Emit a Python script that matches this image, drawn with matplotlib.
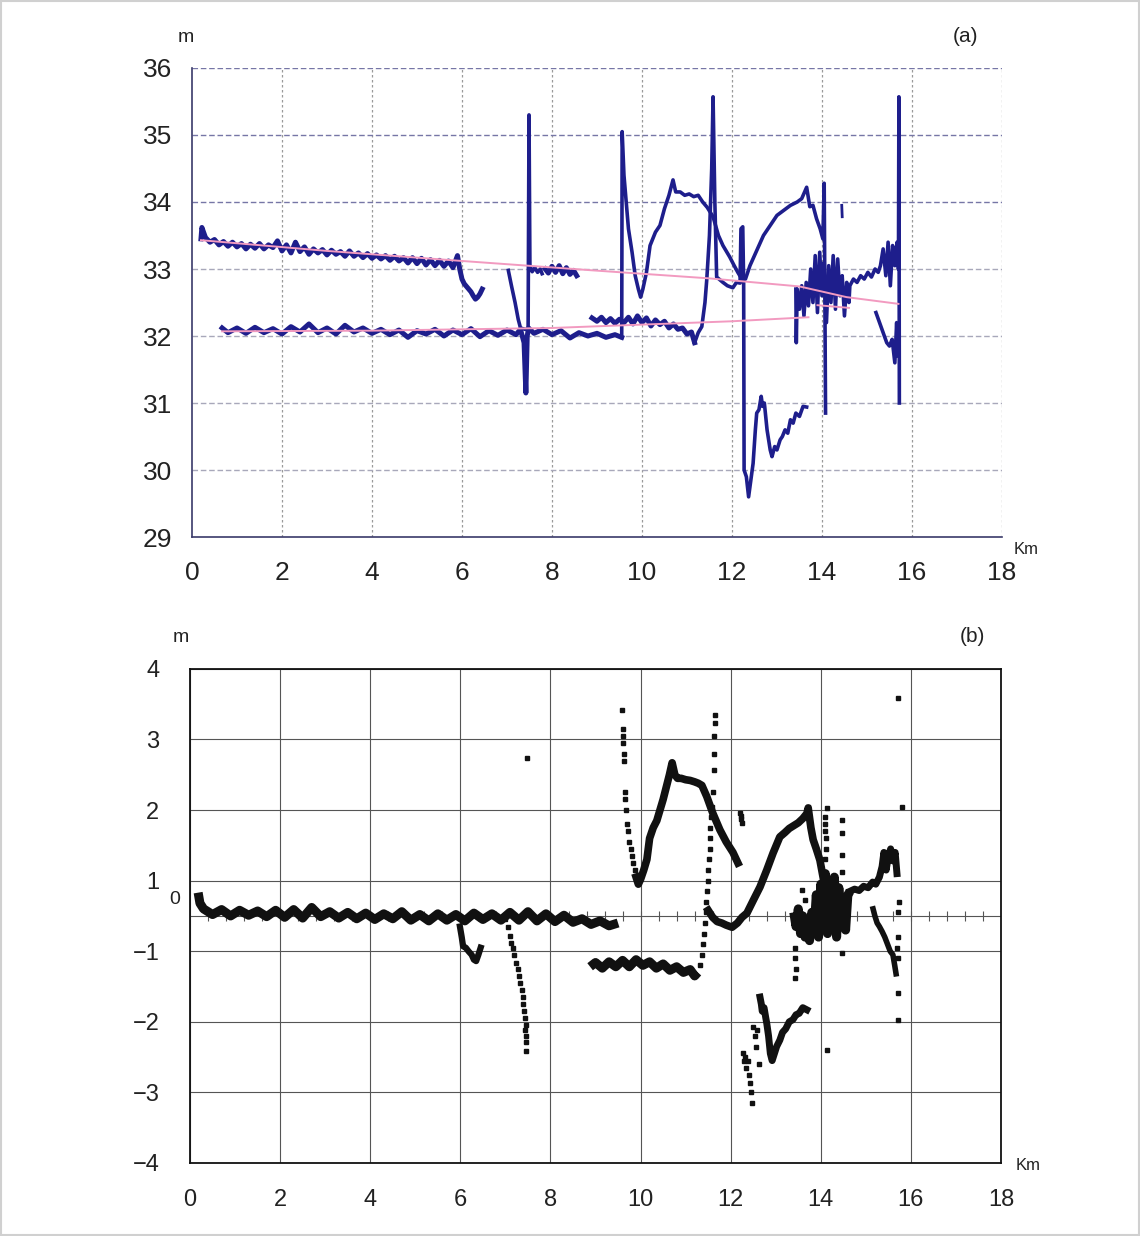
import numpy as np
import matplotlib.pyplot as plt
from matplotlib.patches import Rectangle

plt.rcParams['font.family'] = ['Liberation Sans', 'DejaVu Sans']

# ---------------- (a) heights, m ----------------
a_up1_x = [0.20, 0.22, 0.30, 0.40, 0.50, 0.60, 0.70, 0.80, 0.90, 1.00, 1.10, 1.20, 1.30, 1.40, 1.50,
           1.60, 1.70, 1.80, 1.90, 2.00, 2.10, 2.20, 2.30, 2.40, 2.50, 2.60, 2.70, 2.80, 2.90, 3.00,
           3.10, 3.20, 3.30, 3.40, 3.50, 3.60, 3.70, 3.80, 3.90, 4.00, 4.10, 4.20, 4.30, 4.40, 4.50,
           4.60, 4.70, 4.80, 4.90, 5.00, 5.10, 5.20, 5.30, 5.40, 5.50, 5.60, 5.70, 5.80, 5.90,
           5.95, 6.00, 6.05, 6.10, 6.15, 6.20, 6.25, 6.30, 6.35, 6.40, 6.45]
a_up1_y = [33.45, 33.62, 33.47, 33.40, 33.44, 33.36, 33.41, 33.34, 33.40, 33.33, 33.38, 33.30, 33.37,
           33.31, 33.38, 33.30, 33.36, 33.32, 33.42, 33.27, 33.36, 33.24, 33.40, 33.26, 33.33, 33.22,
           33.30, 33.24, 33.29, 33.21, 33.28, 33.22, 33.26, 33.19, 33.27, 33.19, 33.24, 33.17, 33.23,
           33.16, 33.21, 33.15, 33.20, 33.13, 33.19, 33.12, 33.17, 33.09, 33.17, 33.08, 33.16, 33.06,
           33.14, 33.05, 33.13, 33.04, 33.12, 33.02, 33.20,
           33.00, 32.85, 32.78, 32.74, 32.70, 32.66, 32.60, 32.55, 32.58, 32.63, 32.70]

a_low_x = [0.67, 0.80, 1.00, 1.20, 1.40, 1.60, 1.80, 2.00, 2.20, 2.40, 2.60, 2.80, 3.00, 3.20, 3.40,
           3.60, 3.80, 4.00, 4.20, 4.40, 4.60, 4.80, 5.00, 5.20, 5.40, 5.60, 5.80, 6.00, 6.20, 6.40,
           6.60, 6.80, 7.00, 7.20, 7.30, 7.38, 7.42, 7.45, 7.48, 7.60, 7.80, 8.00, 8.20, 8.40, 8.60,
           8.80, 9.00, 9.20, 9.40, 9.55]
a_low_y = [32.12, 32.05, 32.12, 32.04, 32.13, 32.05, 32.11, 32.03, 32.14, 32.06, 32.18, 32.05, 32.12,
           32.03, 32.16, 32.06, 32.12, 32.04, 32.10, 32.02, 32.09, 31.98, 32.08, 32.03, 32.10, 32.00,
           32.09, 32.02, 32.11, 31.99, 32.08, 32.01, 32.09, 32.02, 32.10, 31.90, 31.15, 32.00, 32.12,
           32.04, 32.10, 32.02, 32.08, 31.97, 32.05, 32.00, 32.04, 31.98, 32.02, 31.98]

a_hump_x = [9.56, 9.60, 9.65, 9.70, 9.78, 9.85, 9.92, 9.97, 10.02, 10.10, 10.18, 10.30, 10.40, 10.50,
            10.60, 10.69, 10.75, 10.85, 10.95, 11.05, 11.15, 11.25, 11.35, 11.45, 11.58, 11.70, 11.80,
            11.95, 12.05, 12.13, 12.22, 12.30, 12.40, 12.50, 12.60, 12.70, 12.80, 12.90, 13.00, 13.10,
            13.20, 13.30, 13.45, 13.55, 13.66, 13.73, 13.80, 13.88, 13.96, 14.02, 14.05, 14.08]
a_hump_y = [35.05, 34.40, 34.00, 33.60, 33.25, 32.90, 32.70, 32.58, 32.70, 32.95, 33.35, 33.55, 33.65,
            33.90, 34.10, 34.33, 34.15, 34.15, 34.10, 34.12, 34.08, 34.10, 34.00, 33.92, 33.78, 33.50,
            33.35, 33.18, 33.05, 32.95, 32.85, 32.85, 33.05, 33.20, 33.35, 33.50, 33.60, 33.70, 33.80,
            33.85, 33.90, 33.95, 34.00, 34.05, 34.22, 33.93, 33.95, 33.75, 33.60, 33.45, 34.28, 30.85]

a_mid_x = [7.03, 7.10, 7.18, 7.25, 7.30, 7.40, 7.47, 7.49, 7.51, 7.56, 7.62, 7.68, 7.74, 7.78]
a_mid_y = [32.98, 32.75, 32.50, 32.25, 32.12, 32.10, 32.10, 35.30, 33.05, 32.96, 33.02, 32.95, 33.00, 32.93]
a_mid2_x = [7.85, 7.92, 8.00, 8.08, 8.16, 8.24, 8.32, 8.40, 8.48, 8.55]
a_mid2_y = [33.00, 32.94, 33.04, 32.95, 33.05, 32.93, 33.02, 32.92, 32.98, 32.90]

a_low2_x = [8.89, 9.00, 9.10, 9.20, 9.30, 9.40, 9.50, 9.60, 9.70, 9.80, 9.90, 10.00, 10.10, 10.20,
            10.30, 10.40, 10.50, 10.60, 10.70, 10.80, 10.90, 11.00, 11.10,
            11.17, 11.25, 11.33, 11.40, 11.44, 11.50, 11.55, 11.58, 11.62, 11.66,
            11.73, 11.80, 11.90, 12.02, 12.10, 12.18, 12.20, 12.24, 12.26, 12.27,
            12.32, 12.37, 12.42, 12.47, 12.52, 12.55, 12.60, 12.65, 12.68, 12.72,
            12.78, 12.85, 12.89, 12.95, 13.00, 13.07, 13.12, 13.18, 13.24, 13.30,
            13.36, 13.42, 13.50, 13.58, 13.66]
a_low2_y = [32.27, 32.22, 32.28, 32.20, 32.26, 32.19, 32.25, 32.20, 32.28, 32.18, 32.30, 32.20, 32.27,
            32.15, 32.24, 32.17, 32.22, 32.12, 32.18, 32.10, 32.12, 32.03, 32.06,
            31.90, 32.05, 32.14, 32.50, 32.84, 33.50, 34.50, 35.57, 34.00, 32.88,
            32.84, 32.80, 32.75, 32.72, 32.80, 32.79, 33.60, 33.63, 32.80, 30.00,
            29.90, 29.60, 29.85, 30.10, 30.60, 30.85, 30.90, 31.10, 30.95, 31.00,
            30.60, 30.30, 30.20, 30.35, 30.30, 30.45, 30.50, 30.60, 30.55, 30.75,
            30.70, 30.85, 30.80, 30.95, 30.94]

a_cl_x = [13.42, 13.43, 13.45, 13.50, 13.55, 13.60, 13.65, 13.70, 13.75, 13.80, 13.85, 13.90, 13.95,
          14.00, 14.05, 14.10, 14.15, 14.20, 14.25, 14.30, 14.35, 14.40, 14.45, 14.50, 14.55, 14.60,
          14.62, 14.70, 14.78, 14.86, 14.94, 15.02, 15.10, 15.18, 15.25, 15.30,
          15.36, 15.42, 15.47, 15.52, 15.57, 15.62, 15.67, 15.70, 15.71, 15.72]
a_cl_y = [32.70, 31.90, 32.70, 32.40, 32.75, 32.30, 32.80, 32.45, 33.00, 32.50, 33.20, 32.35, 33.25,
          32.60, 33.10, 32.20, 33.05, 32.50, 33.20, 32.40, 33.15, 32.60, 32.90, 32.30, 32.80, 32.50,
          32.75, 32.85, 32.80, 32.90, 32.85, 32.95, 32.88, 33.00, 32.95, 33.05,
          33.30, 32.90, 33.40, 32.75, 33.35, 33.05, 33.40, 33.00, 35.57, 31.00]

a_desc_x = [15.20, 15.28, 15.36, 15.44, 15.50, 15.56, 15.62, 15.66, 15.68]
a_desc_y = [32.35, 32.20, 32.05, 31.90, 31.85, 31.95, 31.60, 32.20, 31.70]
a_mark_x = [14.44, 14.45]
a_mark_y = [33.95, 33.78]

a_pink1_x = [0.20, 3.00, 6.00, 8.90, 11.50, 13.50, 14.55, 15.70]
a_pink1_y = [33.43, 33.27, 33.12, 32.98, 32.86, 32.74, 32.58, 32.48]
a_pink2_x = [0.67, 4.00, 8.00, 10.00, 12.00, 13.70]
a_pink2_y = [32.07, 32.08, 32.12, 32.17, 32.22, 32.28]
a_pink3_x = [13.90, 14.60]
a_pink3_y = [32.46, 32.42]

# ---------------- (b) differences, m (axis units, 0 = zero line) ----------------
b_band_x = [0.18, 0.22, 0.3, 0.5, 0.7, 0.9, 1.1, 1.3, 1.5, 1.7, 1.9, 2.1, 2.3, 2.5, 2.7, 2.9, 3.1,
            3.3, 3.5, 3.7, 3.9, 4.1, 4.3, 4.5, 4.7, 4.9, 5.1, 5.3, 5.5, 5.7, 5.9, 6.1, 6.3, 6.5, 6.7,
            6.9, 7.1, 7.3, 7.5, 7.7, 7.9, 8.1, 8.3, 8.5, 8.7, 8.9, 9.1, 9.3, 9.5]
b_band_y = [0.33, 0.18, 0.10, 0.02, 0.09, 0.00, 0.08, 0.01, 0.07, -0.01, 0.08, -0.02,
            0.09, -0.03, 0.12, -0.01, 0.06, -0.03, 0.05, -0.04, 0.04, -0.05,
            0.03, -0.04, 0.06, -0.06, 0.02, -0.07, 0.03, -0.06, 0.02, -0.07,
            0.04, -0.05, 0.03, -0.06, 0.05, -0.06, 0.06, -0.07, 0.03, -0.08,
            0.01, -0.09, -0.04, -0.12, -0.07, -0.14, -0.10]

b_dip6_x = [5.99, 6.03, 6.06, 6.12, 6.18, 6.25, 6.30, 6.35, 6.40, 6.45]
b_dip6_y = [-0.15, -0.30, -0.43, -0.45, -0.50, -0.55, -0.62, -0.64, -0.55, -0.45]

b_dip7_x = [7.00, 7.05, 7.10, 7.13, 7.17, 7.20, 7.24, 7.27, 7.30, 7.33, 7.36, 7.38, 7.40, 7.42,
            7.44, 7.45, 7.44, 7.46, 7.45, 7.46]
b_dip7_y = [-0.05, -0.15, -0.28, -0.38, -0.46, -0.55, -0.66, -0.75, -0.85, -0.95, -1.05, -1.15,
            -1.25, -1.35, -1.45, -1.55, -1.62, -1.70, -1.78, -1.92]

b_low2_x = [8.88, 9.0, 9.15, 9.3, 9.45, 9.6, 9.75, 9.9, 10.05, 10.2, 10.35, 10.5, 10.65, 10.8,
            10.95, 11.1, 11.2, 11.27]
b_low2_y = [-0.72, -0.66, -0.74, -0.65, -0.72, -0.63, -0.72, -0.62, -0.70, -0.65, -0.74, -0.68,
            -0.77, -0.72, -0.80, -0.76, -0.85, -0.80]

b_rise_x = [11.32, 11.36, 11.39, 11.41, 11.43, 11.45, 11.46, 11.48, 11.49, 11.50, 11.52, 11.53,
            11.54, 11.55, 11.57, 11.58, 11.60, 11.62, 11.63, 11.64, 11.65, 11.66]
b_rise_y = [-0.70, -0.55, -0.40, -0.25, -0.10, 0.05, 0.20, 0.35, 0.50, 0.65, 0.80, 0.95, 1.10,
            1.25, 1.40, 1.55, 1.75, 2.07, 2.30, 2.55, 2.73, 2.85]

b_fall_x = [9.59, 9.60, 9.61, 9.62, 9.63, 9.64, 9.65, 9.66, 9.67, 9.70, 9.72, 9.75, 9.78, 9.81,
            9.84, 9.87, 9.90]
b_fall_y = [2.92, 2.65, 2.55, 2.45, 2.30, 2.20, 1.75, 1.65, 1.50, 1.30, 1.20, 1.05, 0.95, 0.85,
            0.75, 0.65, 0.55]

b_hump1_x = [9.90, 9.95, 10.00, 10.07, 10.14, 10.20, 10.28, 10.36, 10.43, 10.50, 10.58, 10.64,
             10.70, 10.76, 10.82, 10.90, 11.00, 11.10, 11.20, 11.28, 11.36, 11.47, 11.60, 11.76,
             11.90, 12.05, 12.16]
b_hump1_y = [0.55, 0.45, 0.52, 0.65, 0.80, 1.10, 1.25, 1.35, 1.50, 1.65, 1.85, 2.00, 2.17, 2.00,
             1.95, 1.95, 1.93, 1.92, 1.90, 1.88, 1.85, 1.69, 1.46, 1.22, 1.05, 0.90, 0.75]

b_small_x = [12.20, 12.22, 12.23, 12.25]
b_small_y = [1.46, 1.38, 1.42, 1.32]

b_hump2_x = [11.50, 11.60, 11.70, 11.80, 11.90, 12.03, 12.15, 12.25, 12.36, 12.50, 12.65, 12.80,
             12.94, 13.09, 13.20, 13.30, 13.40, 13.50, 13.60, 13.69, 13.72, 13.78, 13.83, 13.90,
             13.98, 14.05]
b_hump2_y = [0.08, -0.02, -0.08, -0.10, -0.13, -0.16, -0.10, -0.02, 0.04, 0.22, 0.41, 0.65, 0.89,
             1.12, 1.18, 1.24, 1.28, 1.32, 1.38, 1.45, 1.53, 1.25, 1.08, 0.95, 0.79, 0.55]

b_bot_x = [12.65, 12.68, 12.70, 12.74, 12.78, 12.80, 12.84, 12.88, 12.92, 12.97, 13.02, 13.09,
           13.15, 13.22, 13.30, 13.38, 13.45, 13.52, 13.60, 13.69]
b_bot_y = [-1.15, -1.25, -1.35, -1.30, -1.45, -1.52, -1.70, -1.95, -2.05, -1.95, -1.85, -1.76,
           -1.65, -1.60, -1.50, -1.47, -1.40, -1.38, -1.30, -1.33]
b_botdots_x = [12.28, 12.30, 12.32, 12.35, 12.38, 12.40, 12.43, 12.45, 12.47, 12.50, 12.53, 12.56,
               12.58, 12.62]
b_botdots_y = [-1.94, -2.05, -2.00, -2.15, -2.05, -2.25, -2.37, -2.50, -2.65, -1.57, -1.70, -1.85,
               -1.62, -2.10]

b_blob_x = [13.40, 13.45, 13.50, 13.55, 13.60, 13.65, 13.70, 13.75, 13.80, 13.85, 13.90, 13.95,
            14.00, 14.05, 14.10, 14.15, 14.20, 14.25, 14.30, 14.35, 14.40, 14.45, 14.50, 14.55,
            14.60, 14.65]
b_blob_y = [0.05, -0.15, 0.10, -0.25, 0.00, -0.30, -0.10, -0.35, 0.05, -0.20, 0.30, -0.30, 0.45,
            -0.10, 0.60, -0.25, 0.50, 0.00, 0.55, -0.30, 0.40, -0.10, 0.20, -0.20, 0.30, 0.35]

b_tail_x = [14.65, 14.75, 14.85, 14.95, 15.05, 15.15, 15.22, 15.30, 15.36, 15.40, 15.45, 15.50,
            15.55, 15.60, 15.65, 15.69]
b_tail_y = [0.35, 0.38, 0.36, 0.42, 0.40, 0.48, 0.45, 0.55, 0.70, 0.90, 0.65, 0.85, 0.95, 0.78,
            0.90, 0.60]

b_desc_x = [15.16, 15.20, 15.25, 15.30, 15.36, 15.42, 15.48, 15.54, 15.60, 15.64, 15.67]
b_desc_y = [0.10, 0.00, -0.10, -0.15, -0.22, -0.30, -0.40, -0.50, -0.55, -0.70, -0.82]

b_dots_x = [7.48, 15.71, 15.80, 15.71, 15.71, 15.71, 15.72, 15.72, 15.73, 15.70,
            14.13, 14.46, 13.72, 14.13, 14.10, 14.10, 14.10, 14.11, 14.12, 14.10,
            14.46, 14.46, 14.46, 14.46, 13.58, 13.65, 13.42, 13.43, 13.44, 13.42]
b_dots_y = [2.24, 3.09, 1.54, -1.09, -1.47, -0.60, -0.30, 0.05, 0.20, -0.45,
            -1.90, -0.53, 1.54, 1.53, 1.40, 1.30, 1.20, 1.10, 0.95, 0.80,
            1.36, 1.18, 0.86, 0.62, 0.37, 0.23, -0.45, -0.60, -0.75, -0.88]

x_ticks = [0, 2, 4, 6, 8, 10, 12, 14, 16, 18]
a_yticks = [29, 30, 31, 32, 33, 34, 35, 36]
b_ytick_labels = ['4', '3', '2', '1', '\u22121', '\u22122', '\u22123', '\u22124']

BLUE = '#1e1e8c'
PINK = '#f29ac0'
INK = '#111111'
TXT = '#222222'

fig = plt.figure(figsize=(11.4, 12.36), dpi=100)
fig.patches.append(Rectangle((0.001, 0.001), 0.998, 0.998, transform=fig.transFigure,
                             fill=False, ec='#d0d0d0', lw=1.5))

# ---------- panel (a) ----------
ax1 = fig.add_axes([0.1684, 0.5655, 0.7105, 0.3795])
ax1.set_xlim(0, 18)
ax1.set_ylim(29, 36)
ax1.set_xticks(x_ticks)
ax1.set_yticks(a_yticks)
for v in x_ticks[1:]:
    ax1.axvline(v, color='#9a9a9a', lw=0.9, ls=(0, (2, 2)), zorder=0)
for v in a_yticks[1:]:
    c = '#7676a6' if v >= 34 else '#a8a8ba'
    ax1.axhline(v, color=c, lw=1.0, ls=(0, (4, 2)), zorder=0)
for s in ['top', 'right']:
    ax1.spines[s].set_visible(False)
ax1.spines['left'].set_color('#3a3a6a')
ax1.spines['bottom'].set_color('#3a3a6a')
ax1.spines['left'].set_linewidth(1.2)
ax1.spines['bottom'].set_linewidth(1.2)
ax1.tick_params(length=0, labelsize=19, colors=TXT)
ax1.tick_params(axis='x', pad=17)
ax1.tick_params(axis='y', pad=14)

kw = dict(color=BLUE, lw=2.6, solid_joinstyle='round', zorder=3)
noisy = dict(color=BLUE, lw=3.6, solid_joinstyle='round', zorder=3)
ax1.plot(a_up1_x, a_up1_y, **noisy)
ax1.plot(a_low_x, a_low_y, **noisy)
ax1.plot(a_low_x[-1:] + a_hump_x, a_low_y[-1:] + a_hump_y, **kw)
ax1.plot(a_mid_x, a_mid_y, **kw)
ax1.plot(a_mid2_x, a_mid2_y, **noisy)
ax1.plot(a_low2_x[:24], a_low2_y[:24], **noisy)
ax1.plot(a_low2_x[23:], a_low2_y[23:], **kw)
ax1.plot(a_cl_x, a_cl_y, **kw)
ax1.plot(a_desc_x, a_desc_y, **kw)
ax1.plot(a_mark_x, a_mark_y, color=BLUE, lw=2, zorder=3)
pk = dict(color=PINK, lw=1.4, zorder=4)
ax1.plot(a_pink1_x, a_pink1_y, **pk)
ax1.plot(a_pink2_x, a_pink2_y, **pk)
ax1.plot(a_pink3_x, a_pink3_y, **pk)

# ---------- panel (b) ----------
ax2 = fig.add_axes([0.1667, 0.0591, 0.7114, 0.3997])
ax2.set_xlim(0, 18)
ax2.set_ylim(-3.5, 3.5)
ax2.set_xticks(x_ticks)
ax2.set_yticks([3.5, 2.5, 1.5, 0.5, -0.5, -1.5, -2.5, -3.5])
ax2.set_yticklabels(b_ytick_labels)
ax2.grid(True, color='#555555', lw=0.8)
ax2.set_axisbelow(True)
ax2.axhline(0, color='#555555', lw=0.8, zorder=1)
zt = np.arange(0.4, 17.7, 0.4)
ax2.plot(zt, np.zeros_like(zt), '|', color='#555555', ms=7, mew=0.8, zorder=1)
for s in ax2.spines.values():
    s.set_color(INK)
    s.set_linewidth(1.3)
ax2.tick_params(length=0, labelsize=17, colors=TXT)
ax2.tick_params(axis='x', pad=19)
ax2.tick_params(axis='y', pad=22)
ax2.text(-0.33, 0.23, '0', ha='center', va='center', fontsize=14, color=TXT, clip_on=False)

bk = dict(color=INK, lw=6.5, solid_joinstyle='round', solid_capstyle='butt', zorder=3)
ax2.plot(b_band_x, b_band_y, **bk)
ax2.plot(b_dip6_x, b_dip6_y, color=INK, lw=4.5, solid_joinstyle='round', zorder=3)
ax2.plot(b_low2_x, b_low2_y, **bk)
ax2.plot(b_hump1_x, b_hump1_y, color=INK, lw=5.5, solid_joinstyle='round', zorder=3)
ax2.plot(b_hump2_x, b_hump2_y, color=INK, lw=5.5, solid_joinstyle='round', zorder=3)
ax2.plot(b_bot_x, b_bot_y, color=INK, lw=5, solid_joinstyle='round', zorder=3)
ax2.plot(b_blob_x, b_blob_y, **bk)
ax2.plot(b_tail_x, b_tail_y, color=INK, lw=5, solid_joinstyle='round', zorder=3)
ax2.plot(b_desc_x, b_desc_y, color=INK, lw=4, solid_joinstyle='round', zorder=3)
dk = dict(ls='none', marker='s', ms=2.6, color=INK, zorder=3)
ax2.plot(b_dip7_x, b_dip7_y, **dk)
ax2.plot(b_rise_x, b_rise_y, **dk)
ax2.plot(b_fall_x, b_fall_y, **dk)
ax2.plot(b_small_x, b_small_y, **dk)
ax2.plot(b_botdots_x, b_botdots_y, **dk)
ax2.plot(b_dots_x, b_dots_y, **dk)

# ---------- annotations ----------
fig.text(186 / 1140, 1 - 38 / 1236, 'm', fontsize=14, color=TXT, ha='center', va='center')
fig.text(966 / 1140, 1 - 36 / 1236, '(a)', fontsize=15, color=TXT, ha='center', va='center')
fig.text(1026 / 1140, 1 - 549 / 1236, 'Km', fontsize=12, color=TXT, ha='center', va='center')
fig.text(181 / 1140, 1 - 638 / 1236, 'm', fontsize=14, color=TXT, ha='center', va='center')
fig.text(972 / 1140, 1 - 637 / 1236, '(b)', fontsize=15, color=TXT, ha='center', va='center')
fig.text(1028 / 1140, 1 - 1166 / 1236, 'Km', fontsize=12, color=TXT, ha='center', va='center')

fig.savefig('out.png', dpi=100)
